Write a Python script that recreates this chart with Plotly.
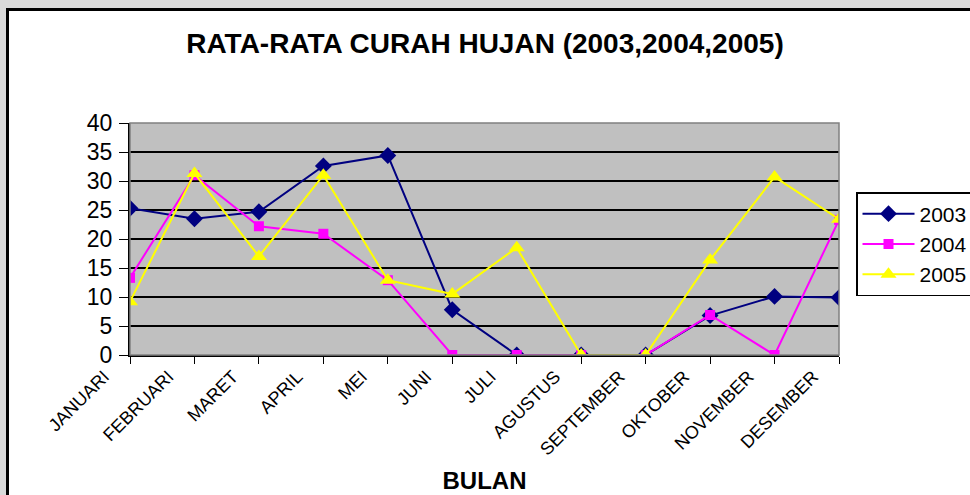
import plotly.graph_objects as go

bulan = ["JANUARI", "FEBRUARI", "MARET", "APRIL", "MEI", "JUNI", "JULI",
         "AGUSTUS", "SEPTEMBER", "OKTOBER", "NOVEMBER", "DESEMBER"]
hujan_2003 = [25.3, 23.5, 24.7, 32.6, 34.4, 7.8, 0, 0, 0, 6.8, 10.1, 9.9]
hujan_2004 = [13.3, 31.0, 22.2, 20.9, 12.9, 0, 0, 0, 0, 6.9, 0, 23.3]
hujan_2005 = [9.2, 31.3, 17.0, 31.0, 12.9, 10.5, 18.5, 0, 0, 16.4, 30.7, 23.4]

W, H = 970, 495
L, R, T, B = 130, 131, 123, 140
pw, ph = W - L - R, H - T - B


def px_x(p):
    return (p - L) / pw


def px_y(p):
    return (H - B - p) / ph


fig = go.Figure()
fig.add_trace(go.Scatter(
    x=bulan, y=hujan_2003, name="2003", mode="lines+markers",
    line=dict(color="#000080", width=2),
    marker=dict(symbol="diamond", size=13, color="#000080"),
))
fig.add_trace(go.Scatter(
    x=bulan, y=hujan_2004, name="2004", mode="lines+markers",
    line=dict(color="#FF00FF", width=2),
    marker=dict(symbol="square", size=10, color="#FF00FF"),
))
fig.add_trace(go.Scatter(
    x=bulan, y=hujan_2005, name="2005", mode="lines+markers",
    line=dict(color="#FFFF00", width=2),
    marker=dict(symbol="triangle-up", size=14, color="#FFFF00"),
))

shapes = [
    # grey surround outside the chart frame
    dict(type="rect", xref="paper", yref="paper", layer="below",
         x0=px_x(0), x1=px_x(W), y0=px_y(0), y1=px_y(8),
         fillcolor="#d9d9d9", line=dict(width=0)),
    dict(type="rect", xref="paper", yref="paper", layer="below",
         x0=px_x(0), x1=px_x(6), y0=px_y(0), y1=px_y(H),
         fillcolor="#d9d9d9", line=dict(width=0)),
    # chart frame
    dict(type="rect", xref="paper", yref="paper",
         x0=px_x(7.5), x1=px_x(W + 10), y0=px_y(9.5), y1=px_y(H + 10),
         line=dict(color="black", width=3), fillcolor="rgba(0,0,0,0)"),
    # plot area border (top/right grey)
    dict(type="rect", xref="paper", yref="paper",
         x0=0, x1=1, y0=0, y1=1,
         line=dict(color="#808080", width=1.5), fillcolor="rgba(0,0,0,0)"),
]

fig.update_layout(
    width=W, height=H,
    margin=dict(l=L, r=R, t=T, b=B, autoexpand=False),
    paper_bgcolor="white",
    plot_bgcolor="#C0C0C0",
    font=dict(family="Liberation Sans, Arial, sans-serif", color="black"),
    title=dict(text="<b>RATA-RATA CURAH HUJAN (2003,2004,2005)</b>",
               x=0.5, xanchor="center", y=1 - 43 / H, yanchor="middle",
               font=dict(size=28)),
    shapes=shapes,
    showlegend=True,
    legend=dict(x=px_x(856), xanchor="left", y=px_y(192), yanchor="top",
                bgcolor="white", bordercolor="black", borderwidth=1.5,
                font=dict(size=21), tracegroupgap=0, itemwidth=52),
)
fig.update_xaxes(
    type="category", range=[0, 11],
    tickangle=-45, tickfont=dict(size=18),
    ticklabelshift=-26, ticklabelstandoff=-5,
    ticks="outside", ticklen=7, tickcolor="black",
    showline=True, linecolor="black", linewidth=2,
    showgrid=False, zeroline=False,
    title=dict(text="<b>BULAN</b>", font=dict(size=24), standoff=14),
)
fig.update_yaxes(
    range=[0, 40], dtick=5,
    tickfont=dict(size=23), ticklabelstandoff=2,
    ticks="outside", ticklen=9, tickcolor="black",
    showline=True, linecolor="black", linewidth=2,
    showgrid=True, gridcolor="black", gridwidth=1.5,
    zeroline=False,
)

fig.write_html("out.html", config={"displayModeBar": False},
               post_script="document.body.style.margin = '0px';")
